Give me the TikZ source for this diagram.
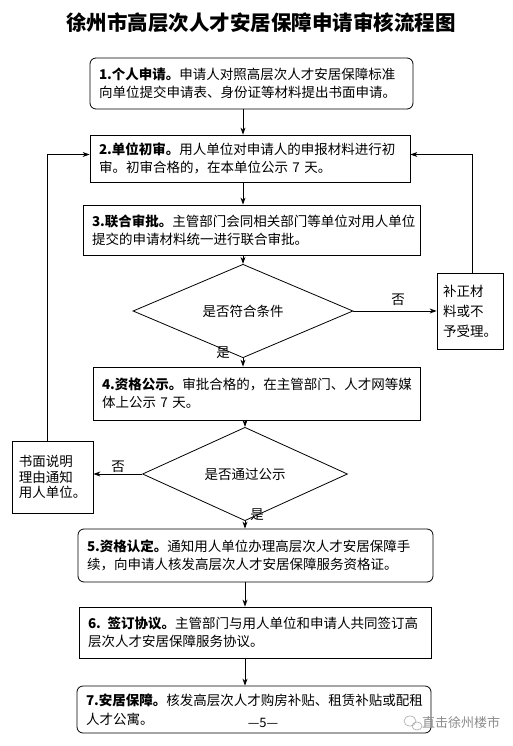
\documentclass[tikz,border=0pt]{standalone}
\usepackage{fontspec}
\setmainfont{Noto Sans CJK SC}
\usetikzlibrary{shapes.geometric,arrows.meta}
\begin{document}
\begin{tikzpicture}[x=1pt,y=-1pt,
  every node/.style={font=\fontsize{13.5}{18.5}\selectfont},
  box/.style={draw, line width=0.8pt, align=left, inner xsep=9pt, inner ysep=0pt},
  rbox/.style={box, rounded corners=6pt},
  sbox/.style={draw, line width=0.8pt, align=left, inner sep=0pt},
  dia/.style={diamond, draw, line width=0.8pt, inner sep=0pt},
  arr/.style={line width=0.8pt, -{Stealth[length=7pt,width=5pt]}},
  lbl/.style={inner sep=0pt}]
\useasboundingbox (0,0) rectangle (513,746);
\fill[white] (0,0) rectangle (513,746);

% title
\node[lbl, font=\fontsize{20.5}{24}\selectfont\bfseries] (title) at (261,23) {徐州市高层次人才安居保障申请审核流程图};

% main steps
\node[rbox, minimum width=323pt, text width=305pt, minimum height=51pt] (b1) at (251.5,83.5)
  {{\bfseries 1.个人申请。}申请人对照高层次人才安居保障标准\\向单位提交申请表、身份证等材料提出书面申请。};
\node[box, minimum width=320pt, text width=302pt, minimum height=47pt] (b2) at (250,158.5)
  {{\bfseries 2.单位初审。}用人单位对申请人的申报材料进行初\\审。初审合格的，在本单位公示 7 天。};
\node[box, minimum width=337pt, text width=319pt, minimum height=50pt] (b3) at (251.5,230)
  {{\bfseries 3.联合审批。}主管部门会同相关部门等单位对用人单位\\提交的申请材料统一进行联合审批。};
\node[dia, minimum width=220pt, minimum height=64pt] (d1) at (243,311) {是否符合条件};
\node[sbox, minimum width=66pt, minimum height=76pt, font=\fontsize{13.5}{20}\selectfont] (rb) at (470,311)
  {补正材\\料或不\\予受理。};
\node[box, minimum width=327pt, text width=309pt, minimum height=53pt] (b4) at (256.5,393.5)
  {{\bfseries 4.资格公示。}审批合格的，在主管部门、人才网等媒\\体上公示 7 天。};
\node[dia, minimum width=205pt, minimum height=58pt] (d2) at (245,474) {是否通过公示};
\node[sbox, minimum width=81pt, minimum height=72pt, font=\fontsize{13.5}{15.5}\selectfont] (lb) at (52.5,477)
  {书面说明\\理由通知\\用人单位。};
\node[rbox, minimum width=355pt, text width=337pt, minimum height=53pt] (b5) at (255.5,555.5)
  {{\bfseries 5.资格认定。}通知用人单位办理高层次人才安居保障手\\续，向申请人核发高层次人才安居保障服务资格证。};
\node[box, minimum width=352pt, text width=334pt, minimum height=51pt] (b6) at (255,632.5)
  {{\bfseries 6. 签订协议。}主管部门与用人单位和申请人共同签订高\\层次人才安居保障服务协议。};
\node[rbox, minimum width=354pt, text width=336pt, minimum height=47pt] (b7) at (254,709.5)
  {{\bfseries 7.安居保障。}核发高层次人才购房补贴、租赁补贴或配租\\人才公寓。};

% page number and watermark
\node[lbl, font=\fontsize{13}{15}\selectfont] (pg) at (263,723) {—5—};
\node[lbl, font=\fontsize{13}{15}\selectfont, text=black!45] (wm) at (461,723) {直击徐州楼市};
\draw[black!35, line width=0.6pt] (410,721) circle[x radius=6pt, y radius=5pt];
\draw[black!35, line width=0.6pt] (417,726) circle[x radius=5pt, y radius=4pt];

% connectors
\draw[arr] (d1.north |- b1.south) -- (d1.north |- b2.north);
\draw[arr] (d1.north |- b2.south) -- (d1.north |- b3.north);
\draw[arr] (d1.north |- b3.south) -- (d1.north);
\draw[arr] (d1.east) -- (d1.east -| rb.west);
\draw[arr] ([xshift=2pt]rb.north) |- ([yshift=4pt]b2.east);
\draw[arr] (d1.south) -- (d1.south |- b4.north);
\draw[arr] (d2.north |- b4.south) -- (d2.north);
\draw[arr] (d2.west) -- (d2.west -| lb.east);
\draw[arr] ([xshift=-5.5pt]lb.north) |- ([yshift=4pt]b2.west);
\draw[arr] (d2.south) -- (d2.south |- b5.north);
\draw[arr] (d2.south |- b5.south) -- (d2.south |- b6.north);
\draw[arr] (d2.south |- b6.south) -- (d2.south |- b7.north);

% labels
\node[lbl] (no1) at (398,300) {否};
\node[lbl] (yes1) at (223,353) {是};
\node[lbl] (no2) at (118,467) {否};
\node[lbl] (yes2) at (257,515) {是};
\end{tikzpicture}
\end{document}
